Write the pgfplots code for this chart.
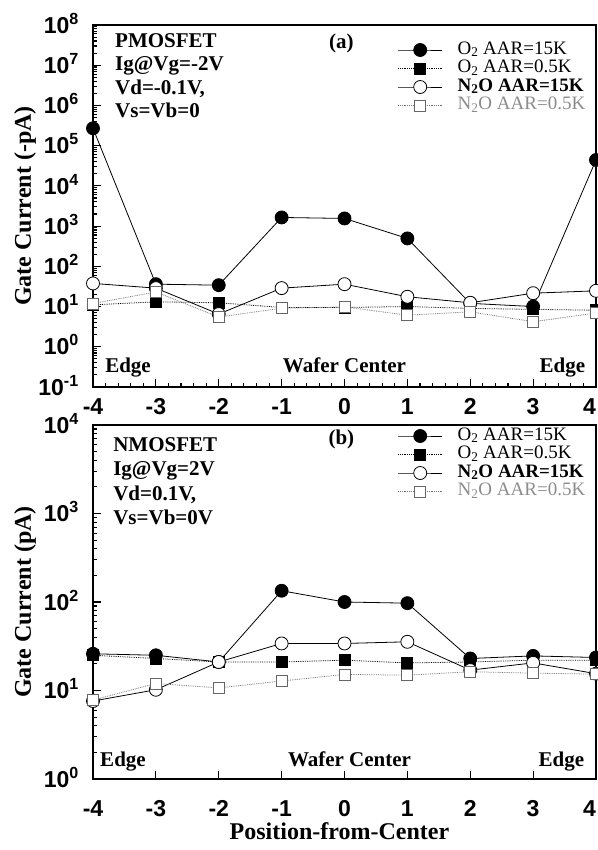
\documentclass[border=0pt]{standalone}
\usepackage{fontspec}
\setmainfont{Liberation Serif}
\setsansfont{Liberation Sans}
\usepackage{pgfplots}
\usepackage{pgfplotstable}
\pgfplotsset{compat=1.18}

\pgfplotstableread{
x o15 o05 n15 n05
-4 2.7e5 11 37.6 11.9
-3 36 13.1 28.7 23
-2 34 12.4 6.5 5.5
-1 1640 9.5 28.7 9.1
0 1550 9.5 36 9.8
1 494 10 17.5 6.1
2 12 9 12.4 7.4
3 10 8.5 21.5 4.2
4 4.4e4 8.1 24.6 6.9
}\toptable

\pgfplotstableread{
x o15 o05 n15 n05
-4 26 25 7.6 7.8
-3 25 23 10.2 12
-2 21 21 21 10.7
-1 134 21 34 12.8
0 100 22 34 15.2
1 97 20.5 35.5 14.9
2 23 21 17 16.3
3 24.6 22 20.5 15.7
4 23.6 22 15.5 15.3
}\bottable

\pgfplotsset{
  legend image code/.code={\draw[mark repeat=2,mark phase=2,#1] plot coordinates {(0pt,0pt) (22pt,0pt) (44pt,0pt)};},
  s1/.style={black, solid, line width=0.8pt, mark=*, mark size=6.5pt, mark options={solid, fill=black}},
  s2/.style={black, densely dotted, line width=0.8pt, mark=square*, mark size=5.5pt, mark options={solid, fill=black}},
  s3/.style={black, solid, line width=0.8pt, mark=*, mark size=6.5pt, mark options={solid, fill=white, draw=black}},
  s4/.style={black!55, densely dotted, line width=0.8pt, mark=square*, mark size=5.5pt, mark options={solid, fill=white, draw=black!60}},
}

\begin{document}
\begin{tikzpicture}
\path[use as bounding box] (0,0) rectangle (597pt,850pt);

% top panel
\begin{axis}[
  scale only axis, width=503pt, height=362pt,
  at={(93pt,463pt)}, anchor=south west,
  ymode=log,
  xmin=-4, xmax=4,
  xtick={-4,...,4},
  xticklabels={-4,-3,-2,-1,0,1,2,3,\makebox[0pt][r]{4}},
  ymin=1e-1, ymax=1e8,
  ytick={1e-1,1,1e1,1e2,1e3,1e4,1e5,1e6,1e7,1e8},
  yticklabels={10\textsuperscript{-1},10\textsuperscript{0},10\textsuperscript{1},10\textsuperscript{2},10\textsuperscript{3},10\textsuperscript{4},10\textsuperscript{5},10\textsuperscript{6},10\textsuperscript{7},10\textsuperscript{8}},
  minor x tick num=4,
  tick align=inside,
  tick pos=left,
  axis line style={line width=1.8pt},
  major tick length=8pt, minor tick length=4pt,
  every tick/.style={black, line width=1.1pt},
  tick label style={font=\sffamily\bfseries\fontsize{23}{23}\selectfont},
  yticklabel style={anchor=base east, inner sep=0pt, xshift=-14pt, yshift=-8.2pt},
  xticklabel style={anchor=north, inner sep=0pt, yshift=-11pt},
  ylabel={Gate Current (-pA)},
  ylabel style={font=\bfseries\fontsize{24}{24}\selectfont, at={(axis description cs:-0.135,0.5)}, anchor=center},
  legend cell align=left,
  legend style={draw=none, fill=none, inner sep=0pt, outer sep=0pt,
      font=\fontsize{19}{19}\selectfont, row sep=2.5pt, column sep=15pt,
      nodes={inner sep=0pt, text height=12pt, text depth=4pt},
      at={(rel axis cs:0.606,0.953)}, anchor=north west},
]
\addplot[s1] table[x=x,y=o15] {\toptable};
\addplot[s2] table[x=x,y=o05] {\toptable};
\addplot[s3] table[x=x,y=n15] {\toptable};
\addplot[s4] table[x=x,y=n05] {\toptable};
\legend{O\textsubscript{2} AAR=15K, O\textsubscript{2} AAR=0.5K, \textbf{N\textsubscript{2}O AAR=15K}, \textcolor{black!45}{N\textsubscript{2}O AAR=0.5K}}
\node[anchor=north west, align=left, inner sep=0pt, font=\bfseries\fontsize{21}{23.5}\selectfont] at (rel axis cs:0.0437,0.978) {PMOSFET\\Ig@Vg=-2V\\Vd=-0.1V,\\Vs=Vb=0};
\node[anchor=base, font=\bfseries\fontsize{21}{21}\selectfont, inner sep=0pt] at (axis cs:-0.05,2.6e7) {(a)};
\node[anchor=base west, inner sep=0pt, font=\bfseries\fontsize{21}{21}\selectfont] at (rel axis cs:0.024,0.0387) {Edge};
\node[anchor=base, inner sep=0pt, font=\bfseries\fontsize{21}{21}\selectfont] at (rel axis cs:0.50,0.0387) {Wafer Center};
\node[anchor=base east, inner sep=0pt, font=\bfseries\fontsize{21}{21}\selectfont] at (rel axis cs:0.979,0.0387) {Edge};
\end{axis}

% bottom panel
\begin{axis}[
  scale only axis, width=503pt, height=354pt,
  at={(93pt,71pt)}, anchor=south west,
  ymode=log,
  xmin=-4, xmax=4,
  xtick={-4,...,4},
  xticklabels={-4,-3,-2,-1,0,1,2,3,\makebox[0pt][r]{4}},
  ymin=1, ymax=1e4,
  ytick={1,1e1,1e2,1e3,1e4},
  yticklabels={10\textsuperscript{0},10\textsuperscript{1},10\textsuperscript{2},10\textsuperscript{3},10\textsuperscript{4}},
  tick align=inside,
  tick pos=left,
  axis line style={line width=1.8pt},
  major tick length=8pt, minor tick length=4pt,
  every tick/.style={black, line width=1.1pt},
  tick label style={font=\sffamily\bfseries\fontsize{23}{23}\selectfont},
  yticklabel style={anchor=base east, inner sep=0pt, xshift=-14pt, yshift=-8.2pt},
  xticklabel style={anchor=north, inner sep=0pt, yshift=-21pt},
  ylabel={Gate Current (pA)},
  ylabel style={font=\bfseries\fontsize{24}{24}\selectfont, at={(axis description cs:-0.135,0.5)}, anchor=center},
  xlabel={Position-from-Center},
  xlabel style={font=\bfseries\fontsize{24}{24}\selectfont, at={(axis description cs:0.49,-0.172)}, anchor=base},
  legend cell align=left,
  legend style={draw=none, fill=none, inner sep=0pt, outer sep=0pt,
      font=\fontsize{19}{19}\selectfont, row sep=2.5pt, column sep=15pt,
      nodes={inner sep=0pt, text height=12pt, text depth=4pt},
      at={(rel axis cs:0.606,0.9915)}, anchor=north west},
]
\addplot[s1] table[x=x,y=o15] {\bottable};
\addplot[s2] table[x=x,y=o05] {\bottable};
\addplot[s3] table[x=x,y=n15] {\bottable};
\addplot[s4] table[x=x,y=n05] {\bottable};
\legend{O\textsubscript{2} AAR=15K, O\textsubscript{2} AAR=0.5K, \textbf{N\textsubscript{2}O AAR=15K}, \textcolor{black!45}{N\textsubscript{2}O AAR=0.5K}}
\node[anchor=north west, align=left, inner sep=0pt, font=\bfseries\fontsize{21}{24.5}\selectfont] at (rel axis cs:0.04,0.966) {NMOSFET\\Ig@Vg=2V\\Vd=0.1V,\\Vs=Vb=0V};
\node[anchor=base, font=\bfseries\fontsize{21}{21}\selectfont, inner sep=0pt] at (axis cs:-0.05,6000) {(b)};
\node[anchor=base west, inner sep=0pt, font=\bfseries\fontsize{21}{21}\selectfont] at (rel axis cs:0.014,0.034) {Edge};
\node[anchor=base, inner sep=0pt, font=\bfseries\fontsize{21}{21}\selectfont] at (rel axis cs:0.51,0.034) {Wafer Center};
\node[anchor=base east, inner sep=0pt, font=\bfseries\fontsize{21}{21}\selectfont] at (rel axis cs:0.977,0.034) {Edge};
\end{axis}
\end{tikzpicture}
\end{document}
